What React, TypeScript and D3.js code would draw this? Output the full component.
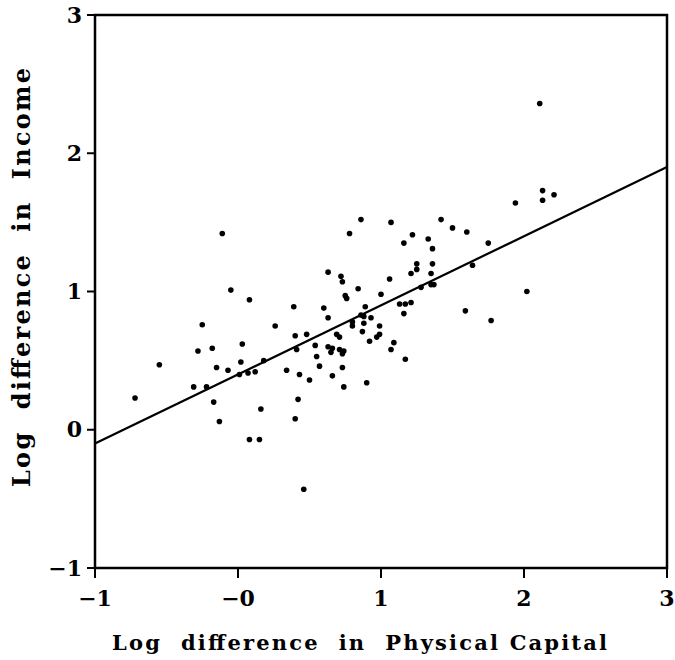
import React from 'react';
import * as d3 from 'd3';

// scatter values (log diff physical capital, log diff income)
const capital = [
  -0.72, -0.55, -0.31, -0.28, -0.25, -0.22, -0.18, -0.17, -0.15, -0.13,
  -0.11, -0.07, -0.05, 0.01, 0.02, 0.03, 0.07, 0.08, 0.08, 0.12,
  0.15, 0.16, 0.18, 0.26, 0.34, 0.39, 0.40, 0.40, 0.41, 0.42,
  0.43, 0.46, 0.48, 0.50, 0.54, 0.55, 0.57, 0.60, 0.63, 0.63,
  0.63, 0.66, 0.65, 0.66, 0.69, 0.71, 0.71, 0.74, 0.73, 0.73,
  0.74, 0.72, 0.73, 0.75, 0.76, 0.78, 0.80, 0.80, 0.84, 0.86,
  0.86, 0.88, 0.87, 0.88, 0.89, 0.90, 0.92, 0.93, 0.97, 0.99,
  0.99, 1.00, 1.06, 1.07, 1.07, 1.09, 1.13, 1.17, 1.21, 1.16,
  1.16, 1.17, 1.21, 1.22, 1.25, 1.25, 1.28, 1.33, 1.35, 1.35,
  1.37, 1.36, 1.36, 1.42, 1.50, 1.59, 1.60, 1.64, 1.75, 1.77,
  1.94, 2.02, 2.11, 2.13, 2.13, 2.21,
];
const income = [
  0.23, 0.47, 0.31, 0.57, 0.76, 0.31, 0.59, 0.20, 0.45, 0.06,
  1.42, 0.43, 1.01, 0.40, 0.49, 0.62, 0.41, -0.07, 0.94, 0.42,
  -0.07, 0.15, 0.50, 0.75, 0.43, 0.89, 0.08, 0.68, 0.58, 0.22,
  0.40, -0.43, 0.69, 0.36, 0.61, 0.53, 0.46, 0.88, 1.14, 0.81,
  0.60, 0.59, 0.56, 0.39, 0.69, 0.67, 0.58, 0.57, 0.55, 0.45,
  0.31, 1.11, 1.07, 0.97, 0.95, 1.42, 0.78, 0.75, 1.02, 1.52,
  0.83, 0.82, 0.71, 0.77, 0.89, 0.34, 0.64, 0.81, 0.67, 0.69,
  0.75, 0.98, 1.09, 1.50, 0.58, 0.63, 0.91, 0.91, 0.92, 0.84,
  1.35, 0.51, 1.13, 1.41, 1.20, 1.16, 1.03, 1.38, 1.13, 1.05,
  1.05, 1.31, 1.20, 1.52, 1.46, 0.86, 1.43, 1.19, 1.35, 0.79,
  1.64, 1.00, 2.36, 1.73, 1.66, 1.70,
];

// fitted line
const fitIntercept = 0.4;
const fitSlope = 0.5;

const xTickValues = [-1, 0, 1, 2, 3];
const xTickLabels = ['−1', '−0', '1', '2', '3'];
const yTickValues = [-1, 0, 1, 2, 3];
const yTickLabels = ['−1', '0', '1', '2', '3'];

const xTitle = 'Log  difference  in  Physical Capital';
const yTitle = 'Log  difference  in  Income';

const width = 675;
const height = 660;
const font = '"DejaVu Serif", "Liberation Serif", serif';

export default function App() {
  const x = d3.scaleLinear().domain([-1, 3]).range([95, 667]);
  const y = d3.scaleLinear().domain([-1, 3]).range([568, 15]);

  const [x0, x1] = x.domain();
  const fitLine = d3.line<number>()
    .x((d) => x(d))
    .y((d) => y(fitIntercept + fitSlope * d))([x0, x1]);

  return (
    <svg
      width={width}
      height={height}
      style={{ position: 'absolute', left: 0, top: 0, background: '#fff' }}
      fontFamily={font}
      fontWeight="bold"
    >
      {/* frame */}
      <rect
        x={x(-1)}
        y={y(3)}
        width={x(3) - x(-1)}
        height={y(-1) - y(3)}
        fill="none"
        stroke="#000"
        strokeWidth={2.5}
      />

      {/* x ticks */}
      {xTickValues.map((v, i) => (
        <g key={'xt' + v} transform={`translate(${x(v)},${y(-1)})`}>
          <line y1={0} y2={10} stroke="#000" strokeWidth={2} />
          <text y={38} textAnchor="middle" fontSize={22}>{xTickLabels[i]}</text>
        </g>
      ))}

      {/* y ticks */}
      {yTickValues.map((v, i) => (
        <g key={'yt' + v} transform={`translate(${x(-1)},${y(v)})`}>
          <line x1={0} x2={-8} stroke="#000" strokeWidth={2} />
          <text x={-13} dy="0.35em" textAnchor="end" fontSize={22}>{yTickLabels[i]}</text>
        </g>
      ))}

      {/* regression line */}
      <path d={fitLine || ''} fill="none" stroke="#000" strokeWidth={2.2} />

      {/* points */}
      {capital.map((c, i) => (
        <circle key={i} cx={x(c)} cy={y(income[i])} r={2.8} fill="#000" />
      ))}

      {/* axis titles */}
      <text
        x={112}
        y={650}
        fontSize={21}
        textLength={495}
        lengthAdjust="spacing"
        style={{ whiteSpace: 'pre' }}
      >
        {xTitle}
      </text>
      <text
        transform={`translate(30,487) rotate(-90)`}
        fontSize={24}
        textLength={419}
        lengthAdjust="spacing"
        style={{ whiteSpace: 'pre' }}
      >
        {yTitle}
      </text>
    </svg>
  );
}
